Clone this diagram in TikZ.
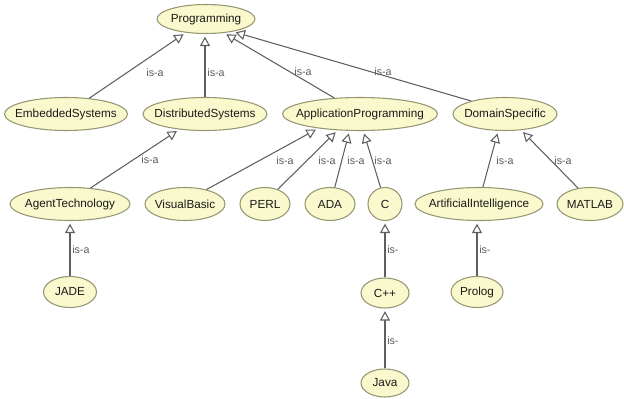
\documentclass[tikz,border=0pt]{standalone}
\usepackage{fontspec}
\setmainfont{Liberation Sans}
\usetikzlibrary{shapes.geometric,arrows.meta}
\definecolor{nodefill}{RGB}{250,249,205}
\definecolor{nodeline}{RGB}{150,150,115}
\definecolor{edgecol}{RGB}{95,95,95}
\definecolor{labcol}{RGB}{90,90,90}
\tikzset{
  cls/.style={ellipse, draw=nodeline, fill=nodefill, line width=0.8pt, inner xsep=-12pt, inner ysep=0pt,
    font=\fontsize{8.8pt}{9.5pt}\selectfont, text=black!90},
  isa/.style={draw=edgecol, line width=0.8pt, shorten >=2pt,
    -{Triangle[open, width=7.5pt, length=7pt, fill=white]}},
  lab/.style={font=\fontsize{8pt}{9pt}\selectfont, text=labcol, inner sep=0pt}
}
\begin{document}
\begin{tikzpicture}[x=0.75pt,y=-0.75pt]
\useasboundingbox (0,0) rectangle (624,399);
% nodes
\node[cls, minimum width=98*0.75pt, minimum height=29*0.75pt] (prog) at (206,19) {Programming};
\node[cls, minimum width=123*0.75pt, minimum height=33*0.75pt] (es) at (66,114) {EmbeddedSystems};
\node[cls, minimum width=124*0.75pt, minimum height=33*0.75pt] (ds) at (205,114) {DistributedSystems};
\node[cls, minimum width=155*0.75pt, minimum height=33*0.75pt] (ap) at (360,114) {ApplicationProgramming};
\node[cls, minimum width=104*0.75pt, minimum height=33*0.75pt] (dom) at (505,114) {DomainSpecific};
\node[cls, minimum width=120*0.75pt, minimum height=33*0.75pt] (at) at (70,204) {AgentTechnology};
\node[cls, minimum width=80*0.75pt, minimum height=33*0.75pt] (vb) at (185,204) {VisualBasic};
\node[cls, minimum width=50*0.75pt, minimum height=33*0.75pt] (perl) at (265,204) {PERL};
\node[cls, minimum width=50*0.75pt, minimum height=33*0.75pt] (ada) at (330,204) {ADA};
\node[cls, minimum width=34*0.75pt, minimum height=33*0.75pt] (c) at (385,204) {C};
\node[cls, minimum width=128*0.75pt, minimum height=33*0.75pt] (ai) at (479,204) {ArtificialIntelligence};
\node[cls, minimum width=66*0.75pt, minimum height=33*0.75pt] (matlab) at (590,204) {MATLAB};
\node[cls, minimum width=53*0.75pt, minimum height=31*0.75pt] (jade) at (70,292) {JADE};
\node[cls, minimum width=48*0.75pt, minimum height=30*0.75pt] (cpp) at (385,293) {C++};
\node[cls, minimum width=52*0.75pt, minimum height=31*0.75pt] (prolog) at (477,292) {Prolog};
\node[cls, minimum width=48*0.75pt, minimum height=28*0.75pt] (java) at (385,383) {Java};
% edges
\draw[isa] (es) -- (prog);
\draw[isa] (ds) -- (prog.south -| ds);
\draw[isa] (ap.148) -- (prog.-38);
\draw[isa] (dom.159) -- (prog.-25);
\draw[isa] (at.38) -- (ds.-149);
\draw[isa] (vb.34) -- (ap.-161);
\draw[isa] (perl.49) -- (ap.-144);
\draw[isa] (ada.74) -- (ap.-122);
\draw[isa] (c.105) -- (ap.-79);
\draw[isa] (ai.77) -- (dom.-112);
\draw[isa] (matlab.127) -- (dom.-45);
\draw[isa] (jade) -- (at);
\draw[isa] (cpp) -- (c);
\draw[isa] (prolog) -- (ai.south -| prolog);
\draw[isa] (java) -- (cpp);
% labels
\node[lab] (l1) at (155,73) {is-a};
\node[lab] (l2) at (216,73) {is-a};
\node[lab] (l3) at (303,72) {is-a};
\node[lab] (l4) at (383,72) {is-a};
\node[lab] (l5) at (150,160) {is-a};
\node[lab] (l6) at (285,161) {is-a};
\node[lab] (l7) at (327,161) {is-a};
\node[lab] (l8) at (356,161) {is-a};
\node[lab] (l9) at (383,161) {is-a};
\node[lab] (l10) at (505,161) {is-a};
\node[lab] (l11) at (563,161) {is-a};
\node[lab, anchor=west] (l12) at (72,250) {is-a};
\node[lab, anchor=west] (l13) at (387,250) {is-};
\node[lab, anchor=west] (l14) at (479,250) {is-};
\node[lab, anchor=west] (l15) at (387,341) {is-};
\end{tikzpicture}
\end{document}
